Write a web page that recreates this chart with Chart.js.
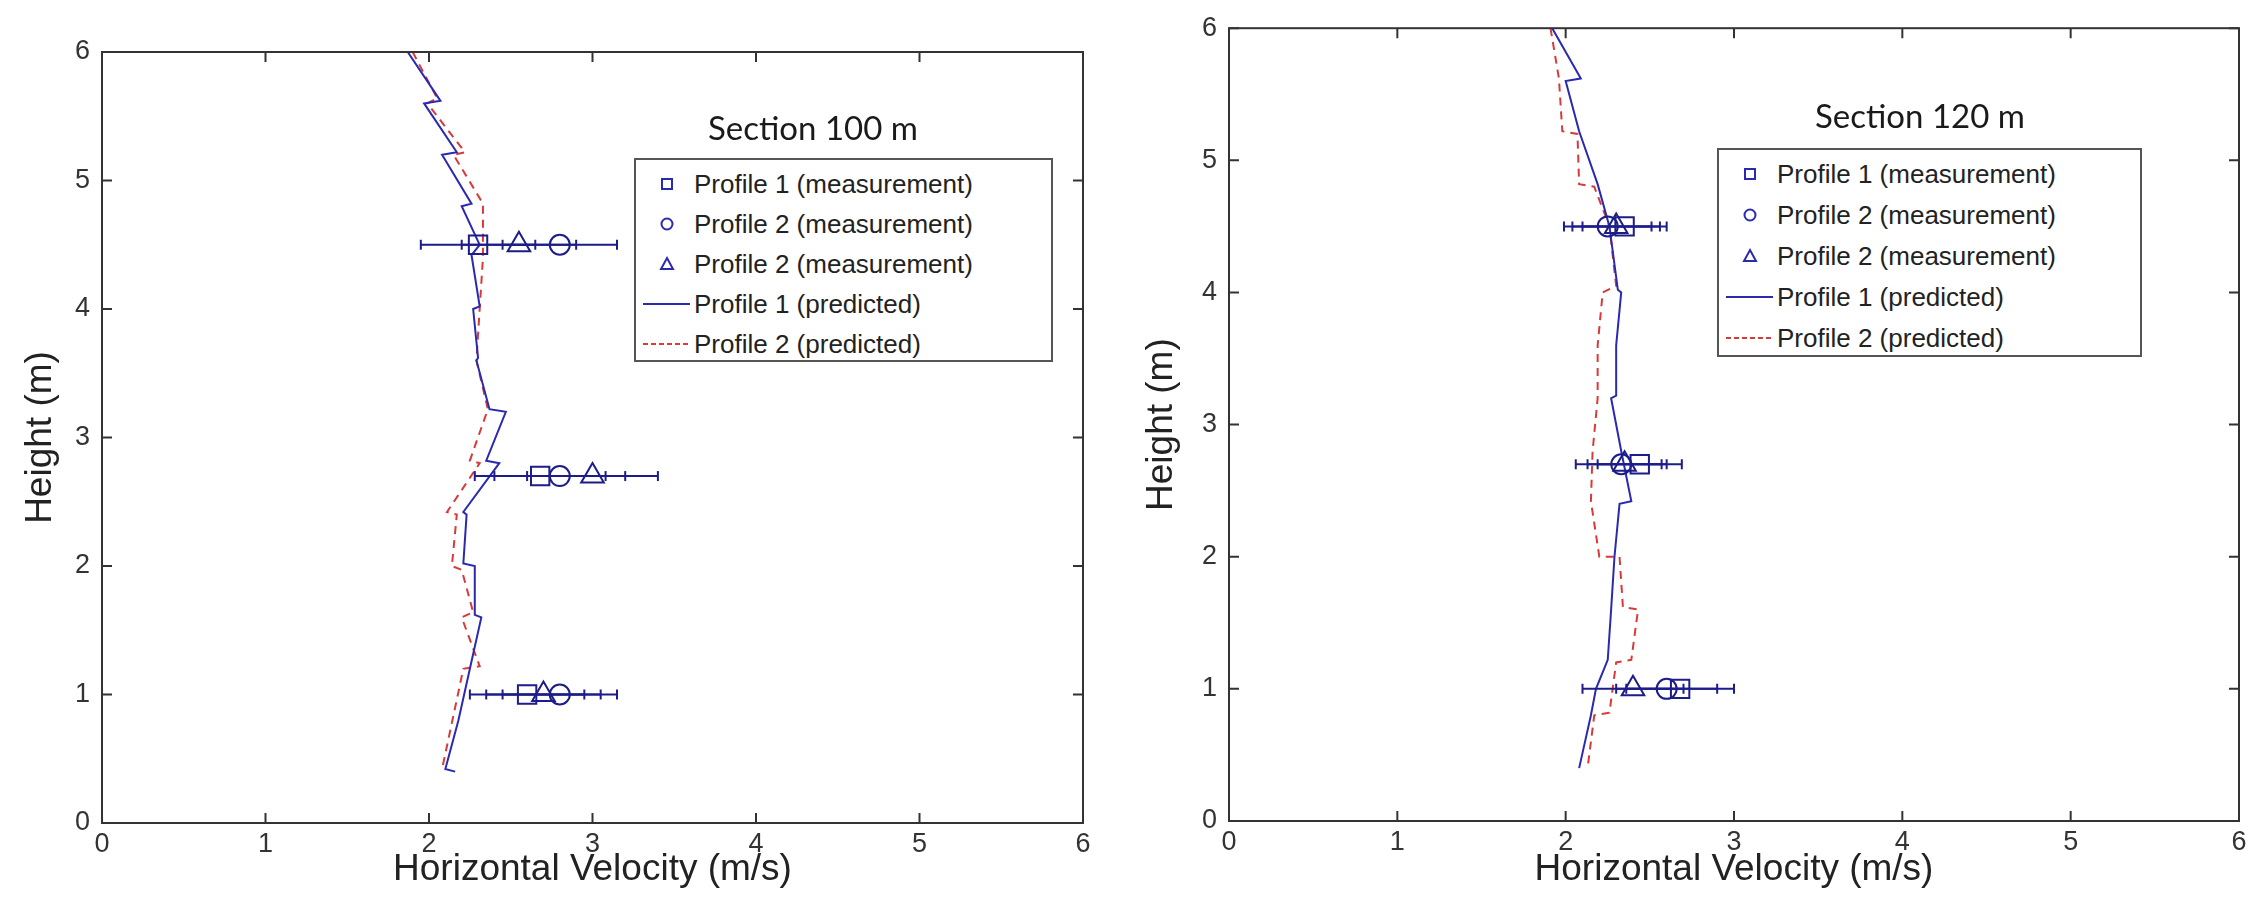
<!DOCTYPE html>
<html>
<head>
<meta charset="utf-8">
<title>Velocity profiles</title>
<script src="https://cdn.jsdelivr.net/npm/chart.js@4.4.1/dist/chart.umd.min.js"></script>
<style>
  html, body { margin: 0; padding: 0; background: #fff; }
  body { width: 2254px; height: 915px; position: relative; overflow: hidden; font-family: "Liberation Sans", Arial, sans-serif; }
  .panel { position: absolute; top: 0; width: 1127px; height: 915px; }
  .panel canvas { position: absolute; left: 0; top: 0; }
  .section-title { position: absolute; font-family: Lato, "Open Sans", sans-serif; font-size: 33px; color: #1a1a1a; white-space: nowrap; transform: translate(-50%, -50%); }
  .legend-box { position: absolute; border: 2px solid #555; background: #fff; box-sizing: border-box; }
  .legend-row { position: absolute; left: 0; height: 36px; margin-top: -18px; white-space: nowrap; }
  .legend-row svg { position: absolute; top: 0; }
  .legend-row span { position: absolute; top: 50%; transform: translateY(-50%); font-size: 26px; color: #222; }
</style>
</head>
<body>
<div class="panel" id="panel100" style="left:0">
  <canvas id="chart100" width="1127" height="915"></canvas>
</div>
<div class="panel" id="panel120" style="left:1127px">
  <canvas id="chart120" width="1127" height="915"></canvas>
</div>

<script>
// ---- data ----------------------------------------------------------------
const axisTicks = [0, 1, 2, 3, 4, 5, 6];
const measHeights = [1.0, 2.7, 4.5];

const legendLabels = [
  'Profile 1 (measurement)',
  'Profile 2 (measurement)',
  'Profile 2 (measurement)',
  'Profile 1 (predicted)',
  'Profile 2 (predicted)'
];

// Section 100 m - predicted profiles (velocity, height)
const s100Pred1V = [1.87, 2.07, 1.97, 2.17, 2.08, 2.26, 2.20, 2.31, 2.26, 2.31, 2.27, 2.30, 2.29, 2.37, 2.47, 2.35, 2.43, 2.21, 2.23, 2.21, 2.28, 2.28, 2.32, 2.25, 2.18, 2.10, 2.16];
const s100Pred1H = [6.0, 5.62, 5.6, 5.22, 5.2, 4.82, 4.8, 4.5, 4.42, 4.02, 4.0, 3.62, 3.6, 3.22, 3.2, 2.82, 2.8, 2.42, 2.4, 2.02, 2.0, 1.62, 1.6, 1.2, 0.8, 0.42, 0.4];
const s100Pred2V = [1.90, 2.05, 1.99, 2.22, 2.15, 2.33, 2.33, 2.31, 2.29, 2.36, 2.25, 2.31, 2.11, 2.17, 2.14, 2.20, 2.27, 2.20, 2.31, 2.21, 2.08];
const s100Pred2H = [6.0, 5.64, 5.6, 5.22, 5.2, 4.82, 4.4, 4.0, 3.6, 3.22, 2.82, 2.8, 2.42, 2.4, 2.0, 1.97, 1.64, 1.6, 1.22, 1.2, 0.42];

// Section 100 m - measurements at measHeights, with error half-widths
const s100Meas1 = [2.60, 2.68, 2.30];
const s100Meas2 = [2.80, 2.80, 2.80];
const s100Meas3 = [2.70, 3.00, 2.55];
const s100Err1 = [0.35, 0.40, 0.35];
const s100Err2 = [0.35, 0.40, 0.35];
const s100Err3 = [0.35, 0.40, 0.35];

// Section 120 m - predicted profiles
const s120Pred1V = [1.92, 2.09, 2.00, 2.08, 2.19, 2.26, 2.31, 2.33, 2.30, 2.30, 2.27, 2.33, 2.39, 2.32, 2.29, 2.27, 2.25, 2.18, 2.15, 2.08];
const s120Pred1H = [6.0, 5.62, 5.6, 5.22, 4.82, 4.5, 4.02, 4.0, 3.6, 3.22, 3.2, 2.8, 2.42, 2.4, 2.0, 1.6, 1.22, 1.0, 0.8, 0.4];
const s120Pred2V = [1.91, 1.96, 1.98, 2.07, 2.08, 2.17, 2.26, 2.30, 2.22, 2.19, 2.19, 2.16, 2.15, 2.20, 2.32, 2.34, 2.43, 2.39, 2.30, 2.26, 2.17, 2.13];
const s120Pred2H = [6.0, 5.62, 5.22, 5.2, 4.82, 4.8, 4.5, 4.05, 4.0, 3.6, 3.2, 2.8, 2.42, 2.0, 2.0, 1.62, 1.6, 1.22, 1.2, 0.82, 0.8, 0.4];

// Section 120 m - measurements
const s120Meas1 = [2.68, 2.44, 2.35];
const s120Meas2 = [2.60, 2.33, 2.25];
const s120Meas3 = [2.40, 2.35, 2.30];
const s120Err1 = [0.32, 0.25, 0.25];
const s120Err2 = [0.30, 0.27, 0.26];
const s120Err3 = [0.30, 0.22, 0.26];

// ---- styling -------------------------------------------------------------
const BLUE = '#2a2ab0';
const BAR_BLUE = '#1c1c8a';
const RED = '#d83a3a';
const FRAME = '#333';
const TICK_LEN = 10;
const TICK_FONT = { family: '"Liberation Sans", Arial, sans-serif', size: 27 };
const TITLE_FONT = { family: '"Liberation Sans", Arial, sans-serif', size: 37 };

function toPoints(vs, hs) {
  return vs.map((v, i) => ({ x: v, y: hs[i] }));
}

function errorBarPoints(center, half) {
  const pts = [];
  measHeights.forEach((h, i) => {
    pts.push({ x: center[i] - half[i], y: h }, { x: center[i] + half[i], y: h }, { x: null, y: null });
  });
  return pts;
}

// box around the plot area plus inward ticks on all four sides
const frameTicks = {
  id: 'frameTicks',
  afterDraw(chart) {
    const { ctx, chartArea: a, scales: { x, y } } = chart;
    ctx.save();
    ctx.strokeStyle = FRAME;
    ctx.lineWidth = 2;
    ctx.beginPath();
    x.ticks.forEach(t => {
      const px = x.getPixelForValue(t.value);
      ctx.moveTo(px, a.bottom); ctx.lineTo(px, a.bottom - TICK_LEN);
      ctx.moveTo(px, a.top); ctx.lineTo(px, a.top + TICK_LEN);
    });
    y.ticks.forEach(t => {
      const py = y.getPixelForValue(t.value);
      ctx.moveTo(a.left, py); ctx.lineTo(a.left + TICK_LEN, py);
      ctx.moveTo(a.right, py); ctx.lineTo(a.right - TICK_LEN, py);
    });
    ctx.stroke();
    ctx.strokeRect(a.left, a.top, a.right - a.left, a.bottom - a.top);
    ctx.restore();
  }
};

function buildChart(canvasId, opts) {
  const markerStyle = (data, style, radius) => ({
    data: toPoints(data, measHeights),
    showLine: false,
    pointStyle: style,
    pointRadius: radius,
    pointBorderWidth: 2,
    pointBorderColor: BAR_BLUE,
    pointBackgroundColor: 'rgba(0,0,0,0)'
  });
  const barStyle = (center, half) => ({
    data: errorBarPoints(center, half),
    showLine: true,
    borderColor: BAR_BLUE,
    borderWidth: 2,
    pointStyle: 'line',
    rotation: 90,
    pointRadius: 5,
    pointBorderWidth: 2,
    pointBorderColor: BAR_BLUE,
    spanGaps: false
  });

  return new Chart(document.getElementById(canvasId), {
    type: 'scatter',
    data: {
      datasets: [
        markerStyle(opts.meas1, 'rect', 13),
        markerStyle(opts.meas2, 'circle', 10),
        markerStyle(opts.meas3, 'triangle', 13),
        barStyle(opts.meas1, opts.err1),
        barStyle(opts.meas2, opts.err2),
        barStyle(opts.meas3, opts.err3),
        {
          data: toPoints(opts.pred1V, opts.pred1H),
          showLine: true,
          borderColor: BLUE,
          borderWidth: 2,
          pointRadius: 0
        },
        {
          data: toPoints(opts.pred2V, opts.pred2H),
          showLine: true,
          borderColor: RED,
          borderWidth: 2,
          borderDash: [8, 6],
          pointRadius: 0
        }
      ]
    },
    options: {
      responsive: false,
      animation: false,
      layout: { padding: { top: opts.padTop, right: opts.padRight, left: 0, bottom: 0 } },
      plugins: { legend: { display: false }, tooltip: { enabled: false } },
      scales: {
        x: {
          type: 'linear',
          min: 0,
          max: 6,
          afterBuildTicks: s => { s.ticks = axisTicks.map(v => ({ value: v })); },
          ticks: { font: TICK_FONT, color: FRAME, padding: 5 },
          grid: { display: false, drawTicks: false },
          border: { display: false },
          title: {
            display: true,
            text: 'Horizontal Velocity (m/s)',
            font: TITLE_FONT,
            color: '#222',
            padding: { top: 0, bottom: opts.xTitleBottom }
          },
          afterFit: s => { s.height = opts.xAxisHeight; }
        },
        y: {
          type: 'linear',
          min: 0,
          max: 6,
          afterBuildTicks: s => { s.ticks = axisTicks.map(v => ({ value: v })); },
          ticks: { font: TICK_FONT, color: FRAME, padding: 12 },
          grid: { display: false, drawTicks: false },
          border: { display: false },
          title: {
            display: true,
            text: 'Height (m)',
            font: TITLE_FONT,
            color: '#222',
            padding: { top: opts.yTitleLeft, bottom: 0 }
          },
          afterFit: s => { s.width = 102; }
        }
      }
    },
    plugins: [frameTicks]
  });
}

function buildLegend(panelId, box) {
  const panel = document.getElementById(panelId);
  const legend = document.createElement('div');
  legend.className = 'legend-box';
  Object.assign(legend.style, {
    left: box.left + 'px', top: box.top + 'px',
    width: box.width + 'px', height: box.height + 'px'
  });
  const glyphs = [
    `<rect x="26" y="13" width="10" height="10" fill="none" stroke="${BLUE}" stroke-width="2"/>`,
    `<circle cx="31" cy="18" r="5.5" fill="none" stroke="${BLUE}" stroke-width="2"/>`,
    `<polygon points="31,12 37,23 25,23" fill="none" stroke="${BLUE}" stroke-width="2"/>`,
    `<line x1="7" y1="18" x2="54" y2="18" stroke="${BLUE}" stroke-width="2"/>`,
    `<line x1="7" y1="18" x2="54" y2="18" stroke="${RED}" stroke-width="2" stroke-dasharray="5 3"/>`
  ];
  legendLabels.forEach((label, i) => {
    const row = document.createElement('div');
    row.className = 'legend-row';
    row.style.top = (box.rowStart + i * box.rowGap) + 'px';
    row.style.width = (box.width - 4) + 'px';
    row.innerHTML = `<svg width="58" height="36">${glyphs[i]}</svg><span style="left:${box.textLeft}px">${label}</span>`;
    legend.appendChild(row);
  });
  panel.appendChild(legend);

  const title = document.createElement('div');
  title.className = 'section-title';
  title.textContent = box.title;
  title.style.left = box.titleX + 'px';
  title.style.top = box.titleY + 'px';
  panel.appendChild(title);
}

buildChart('chart100', {
  pred1V: s100Pred1V, pred1H: s100Pred1H,
  pred2V: s100Pred2V, pred2H: s100Pred2H,
  meas1: s100Meas1, meas2: s100Meas2, meas3: s100Meas3,
  err1: s100Err1, err2: s100Err2, err3: s100Err3,
  padTop: 52, padRight: 44, xAxisHeight: 92, xTitleBottom: 23, yTitleLeft: 19
});

buildChart('chart120', {
  pred1V: s120Pred1V, pred1H: s120Pred1H,
  pred2V: s120Pred2V, pred2H: s120Pred2H,
  meas1: s120Meas1, meas2: s120Meas2, meas3: s120Meas3,
  err1: s120Err1, err2: s120Err2, err3: s120Err3,
  padTop: 26, padRight: 15, xAxisHeight: 94, xTitleBottom: 23, yTitleLeft: 13
});

buildLegend('panel100', {
  left: 634, top: 158, width: 419, height: 204,
  rowStart: 24, rowGap: 40, textLeft: 58,
  title: 'Section 100 m', titleX: 813, titleY: 127
});

buildLegend('panel120', {
  left: 590, top: 148, width: 425, height: 209,
  rowStart: 24, rowGap: 41, textLeft: 58,
  title: 'Section 120 m', titleX: 793, titleY: 115
});
</script>
</body>
</html>
